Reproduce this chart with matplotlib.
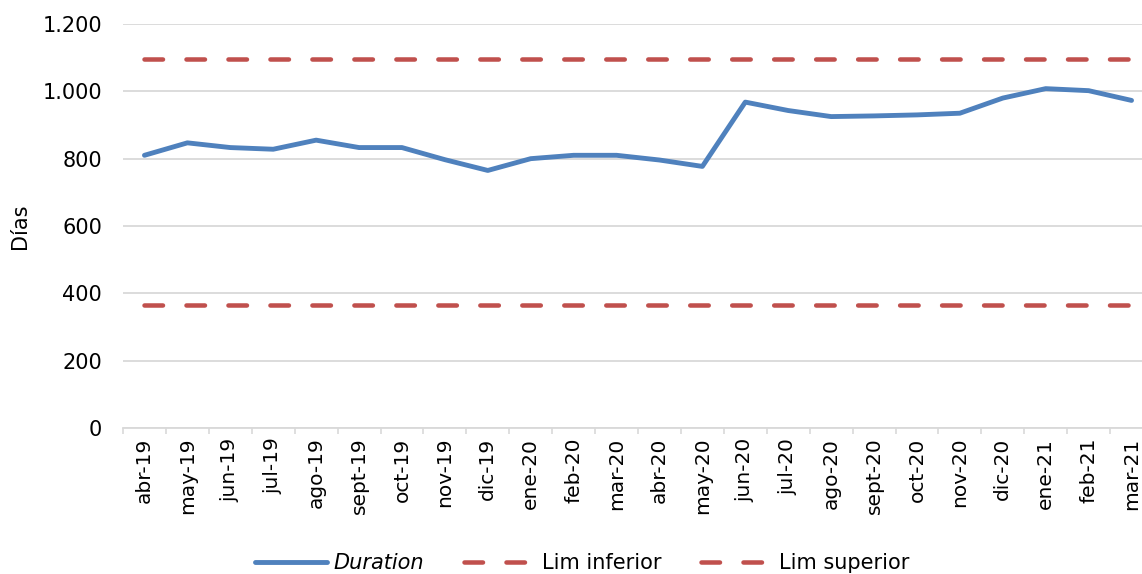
import matplotlib
matplotlib.use('Agg')
import matplotlib.pyplot as plt
from matplotlib.ticker import FuncFormatter, FixedLocator

months = ['abr-19', 'may-19', 'jun-19', 'jul-19', 'ago-19', 'sept-19', 'oct-19',
          'nov-19', 'dic-19', 'ene-20', 'feb-20', 'mar-20', 'abr-20', 'may-20',
          'jun-20', 'jul-20', 'ago-20', 'sept-20', 'oct-20', 'nov-20', 'dic-20',
          'ene-21', 'feb-21', 'mar-21']
duration = [810, 847, 833, 828, 855, 833, 833, 797, 765, 800, 810, 810,
            796, 777, 968, 943, 925, 927, 930, 935, 980, 1008, 1002, 973]
lim_inferior = [365] * len(months)
lim_superior = [1095] * len(months)
y_ticks = [0, 200, 400, 600, 800, 1000, 1200]

blue = '#4F81BD'
red = '#C0504D'
grid = '#D9D9D9'

plt.rcParams['font.family'] = 'DejaVu Sans'

fig = plt.figure(figsize=(11.42, 5.74), dpi=100)
ax = fig.add_axes([123 / 1142, 1 - 428 / 574, 1030 / 1142, 404 / 574])

x = list(range(len(months)))
ax.plot(x, duration, color=blue, lw=3.5, solid_capstyle='round',
        solid_joinstyle='round', label='Duration', zorder=3)
ax.plot(x, lim_inferior, color=red, lw=3.25, dashes=(4.1, 5.2),
        dash_capstyle='round', label='Lim inferior', zorder=2)
ax.plot(x, lim_superior, color=red, lw=3.25, dashes=(4.1, 5.2),
        dash_capstyle='round', label='Lim superior', zorder=2)

ax.set_xlim(-0.5, len(months) - 0.5)
ax.set_ylim(0, 1200)
ax.set_yticks(y_ticks)
ax.yaxis.set_major_formatter(FuncFormatter(lambda v, p: f'{int(v):,}'.replace(',', '.')))
ax.set_xticks(x)
ax.set_xticklabels(months, rotation=90, fontsize=14.5)
ax.xaxis.set_minor_locator(FixedLocator([i - 0.5 for i in range(len(months) + 1)]))
ax.tick_params(axis='x', which='major', length=0, pad=7)
ax.tick_params(axis='x', which='minor', length=4.5, width=1.2, color=grid)
ax.tick_params(axis='y', length=0, pad=15, labelsize=15)

ax.grid(axis='y', color=grid, lw=1.3)
ax.set_axisbelow(True)
for s in ['top', 'right', 'left']:
    ax.spines[s].set_visible(False)
ax.spines['bottom'].set_color(grid)
ax.spines['bottom'].set_linewidth(1.3)

ax.set_ylabel('Días', fontsize=15, labelpad=9)

leg = fig.legend(loc='center', bbox_to_anchor=(0.51, 1 - 563 / 574), ncol=3,
                 frameon=False, fontsize=15, handlelength=3.45,
                 handletextpad=0.3, columnspacing=1.9)
leg.get_texts()[0].set_fontstyle('italic')

fig.savefig('out.png', dpi=100)
